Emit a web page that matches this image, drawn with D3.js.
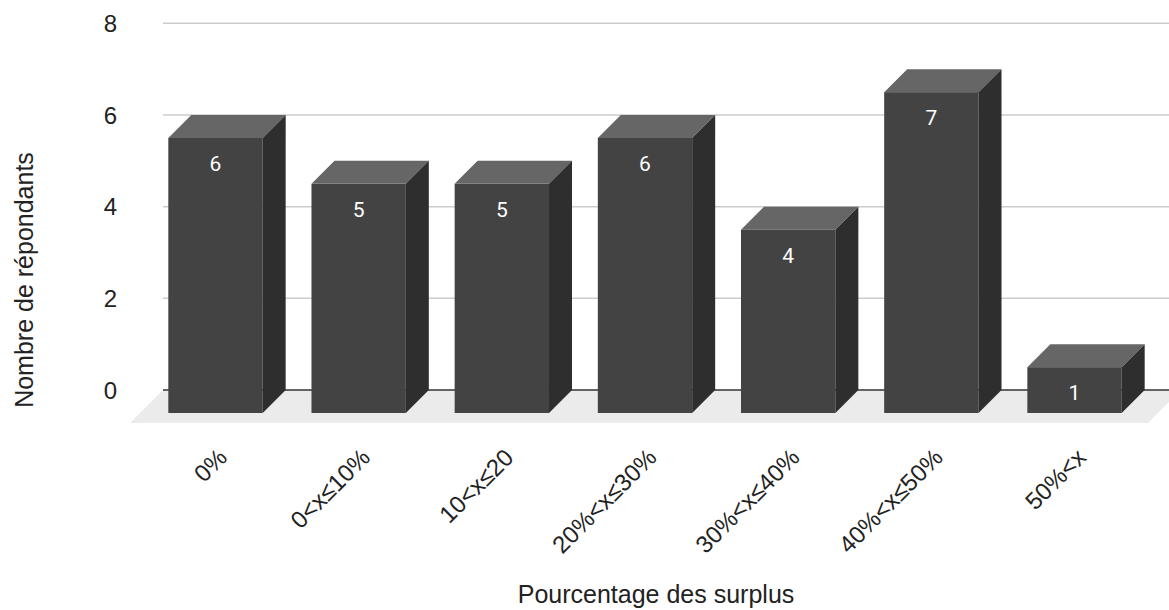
<!DOCTYPE html>
<html>
<head>
<meta charset="utf-8">
<script src="https://cdn.jsdelivr.net/npm/d3@7"></script>
<style>
  html, body { margin: 0; padding: 0; background: #ffffff; }
  svg { display: block; }
</style>
</head>
<body>
<svg id="chart" width="1169" height="610"></svg>
<script>
// Survey results: number of respondents per surplus bracket
const categories = ["0%", "0<x≤10%", "10<x≤20", "20%<x≤30%", "30%<x≤40%", "40%<x≤50%", "50%<x"];
const respondents = [6, 5, 5, 6, 4, 7, 1];
const yTicks = [0, 2, 4, 6, 8];

const width = 1169, height = 610;
const svg = d3.select("#chart");

// 3D geometry: the gridlines sit on the back plane, bars extend toward the viewer
const depth = 23;        // bar depth (px, 45° projection)
const floorDepth = 33;   // depth of the floor slab

// value scale on the back plane
const yBack = d3.scaleLinear().domain([0, 8]).range([390, 23.3]);
// band scale on the front plane of the bars
const x = d3.scaleBand()
  .domain(categories)
  .range([143.9, 1146.1])
  .paddingInner(0.341)
  .paddingOuter(0.1705);

const gridLeft = 163, gridRight = width;
const floorBackRight = 1181;

// floor
svg.append("path")
  .attr("d", d3.line()([
    [gridLeft, yBack(0)],
    [floorBackRight, yBack(0)],
    [floorBackRight - floorDepth, yBack(0) + floorDepth],
    [gridLeft - floorDepth, yBack(0) + floorDepth]
  ]))
  .attr("fill", "#ebebeb");

// gridlines
svg.append("g")
  .selectAll("line")
  .data(yTicks.filter(d => d !== 0))
  .join("line")
  .attr("x1", gridLeft).attr("x2", gridRight)
  .attr("y1", d => yBack(d)).attr("y2", d => yBack(d))
  .attr("stroke", "#cccccc")
  .attr("stroke-width", 1.5);

// baseline
svg.append("line")
  .attr("x1", gridLeft).attr("x2", gridRight)
  .attr("y1", yBack(0)).attr("y2", yBack(0))
  .attr("stroke", "#333333")
  .attr("stroke-width", 1.5);

// y tick labels
svg.append("g")
  .selectAll("text")
  .data(yTicks)
  .join("text")
  .attr("x", 117)
  .attr("y", d => yBack(d))
  .attr("dy", "0.36em")
  .attr("text-anchor", "end")
  .attr("font-family", "'Liberation Sans', Arial, sans-serif")
  .attr("font-size", 24)
  .attr("fill", "#222222")
  .text(d => d);

// bars
const bars = svg.append("g")
  .selectAll("g")
  .data(categories.map((c, i) => ({ c, v: respondents[i] })))
  .join("g");

const frontY = v => yBack(v) + depth;   // front-face y for a value

// front face
bars.append("rect")
  .attr("x", d => x(d.c))
  .attr("y", d => frontY(d.v))
  .attr("width", x.bandwidth())
  .attr("height", d => frontY(0) - frontY(d.v))
  .attr("fill", "#434343");

// top face
bars.append("path")
  .attr("d", d => {
    const x0 = x(d.c), x1 = x0 + x.bandwidth(), y0 = frontY(d.v);
    return d3.line()([[x0, y0], [x0 + depth, y0 - depth], [x1 + depth, y0 - depth], [x1, y0]]) + "Z";
  })
  .attr("fill", "#666666");

// side face
bars.append("path")
  .attr("d", d => {
    const x1 = x(d.c) + x.bandwidth(), yt = frontY(d.v), yb = frontY(0);
    return d3.line()([[x1, yt], [x1 + depth, yt - depth], [x1 + depth, yb - depth], [x1, yb]]) + "Z";
  })
  .attr("fill", "#2e2e2e");

// value labels
bars.append("text")
  .attr("x", d => x(d.c) + x.bandwidth() / 2)
  .attr("y", d => frontY(d.v) + 33)
  .attr("text-anchor", "middle")
  .attr("font-family", "Roboto, 'Noto Sans', sans-serif")
  .attr("font-size", 21)
  .attr("fill", "#ffffff")
  .text(d => d.v);

// category labels, slanted
svg.append("g")
  .selectAll("text")
  .data(categories)
  .join("text")
  .attr("transform", d => `translate(${x(d) + x.bandwidth() / 2 + 13},459) rotate(-45)`)
  .attr("text-anchor", "end")
  .attr("font-family", "'Liberation Sans', Arial, sans-serif")
  .attr("font-size", 24)
  .attr("fill", "#222222")
  .text(d => d);

// axis titles
svg.append("text")
  .attr("x", 656)
  .attr("y", 603)
  .attr("text-anchor", "middle")
  .attr("font-family", "'Liberation Sans', Arial, sans-serif")
  .attr("font-size", 25)
  .attr("fill", "#222222")
  .text("Pourcentage des surplus");

svg.append("text")
  .attr("transform", "translate(33,280) rotate(-90)")
  .attr("text-anchor", "middle")
  .attr("font-family", "'Liberation Sans', Arial, sans-serif")
  .attr("font-size", 25)
  .attr("fill", "#222222")
  .text("Nombre de répondants");
</script>
</body>
</html>
